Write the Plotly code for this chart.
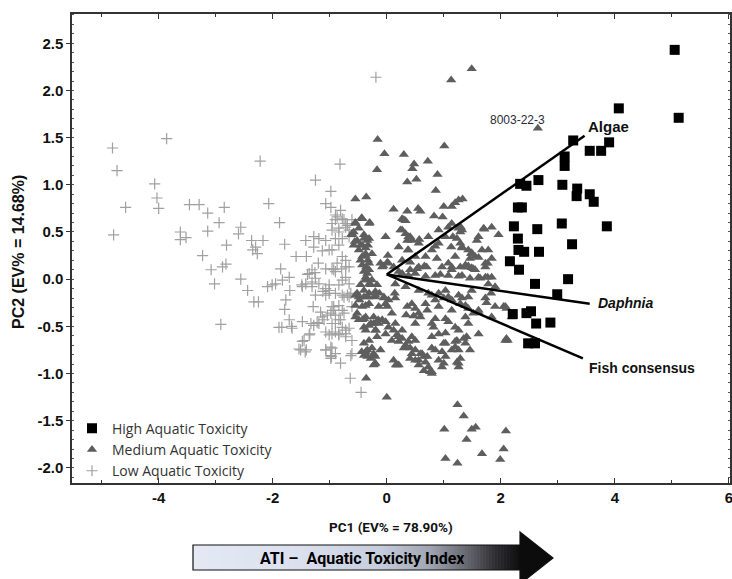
import plotly.graph_objects as go

# ---------------- data ----------------
high_x = [5.05, 5.12, 4.07, 3.27, 3.56, 3.76, 3.90, 3.12, 3.12, 2.34, 2.45, 2.66, 3.08, 3.34, 3.33, 3.56, 3.63,
          2.30, 2.37, 2.23, 2.64, 3.07, 3.86, 2.30, 3.25, 2.31, 2.41, 2.67, 2.16, 2.32, 2.60, 3.18, 2.99,
          2.21, 2.45, 2.53, 2.62, 2.87, 2.48, 2.60]
high_y = [2.43, 1.71, 1.81, 1.47, 1.36, 1.36, 1.45, 1.30, 1.20, 1.01, 0.99, 1.05, 1.00, 0.96, 0.88, 0.90, 0.82,
          0.76, 0.76, 0.56, 0.53, 0.59, 0.56, 0.43, 0.37, 0.31, 0.29, 0.29, 0.19, 0.10, -0.05, 0.00, -0.16,
          -0.37, -0.36, -0.34, -0.47, -0.46, -0.68, -0.68]

medium_pts = [
    (1.49, 2.23), (1.13, 2.11), (2.65, 1.60),
    (-0.16, 1.48), (-0.04, 1.33), (0.30, 1.32), (1.01, 1.41), (-0.17, 1.16), (0.48, 1.22), (0.45, 1.17),
    (0.72, 1.25), (0.89, 1.11), (0.36, 1.03), (0.52, 1.06), (0.86, 0.94),
    (-0.55, 0.85), (-0.36, 0.87), (0.12, 0.74), (0.36, 0.72), (0.55, 0.75), (0.59, 0.72), (1.00, 0.77),
    (1.20, 0.81), (1.26, 0.84), (1.33, 0.85), (1.14, 0.77), (0.83, 0.67), (0.98, 0.66), (0.30, 0.63),
    (0.27, 0.64), (0.33, 0.62),
    (-0.44, 0.65), (-0.30, 0.60), (-0.55, 0.60), (-0.49, 0.54), (-0.61, 0.47), (-0.52, 0.41), (-0.40, 0.47),
    (-0.34, 0.41), (-0.58, 0.36), (-0.46, 0.36), (-0.33, 0.36), (-0.31, 0.59), (-0.58, 0.50), (-0.40, 0.43),
    (-0.56, 0.40), (-0.37, 0.27), (-0.26, 0.27), (-0.43, 0.24),
    (-0.02, 0.45), (0.24, 0.52), (0.33, 0.48), (0.41, 0.45), (0.36, 0.41), (0.45, 0.41), (0.21, 0.34),
    (0.37, 0.31), (0.57, 0.42), (0.85, 0.35), (1.16, 0.45), (1.30, 0.55), (1.29, 0.50), (1.13, 0.34),
    (1.32, 0.34), (1.48, 0.27), (1.55, 0.24), (1.46, 0.22),
    (1.84, 0.55), (1.70, 0.54), (1.08, 0.55), (1.26, 0.54), (1.71, 0.53), (1.96, 0.47), (1.58, 0.41),
    (1.49, 0.28), (1.61, 0.23), (1.77, 0.17), (1.49, 0.12), (1.64, 0.01), (1.77, 0.02), (1.46, 0.01),
    (1.83, -0.15), (1.75, -0.25), (2.05, -0.29), (2.10, -0.31), (1.61, -0.58), (2.12, -0.65),
    (0.02, 0.25), (-0.37, 0.25), (-0.33, 0.20), (-0.36, 0.13), (-0.31, 0.10), (-0.11, 0.17), (0.03, 0.17),
    (0.12, 0.13), (0.27, 0.20), (0.41, 0.18), (0.56, 0.13), (0.70, 0.13), (0.88, 0.22), (0.97, 0.13),
    (1.14, 0.13), (1.29, 0.13), (1.38, 0.15),
    (0.27, 0.06), (0.38, 0.04), (0.50, 0.06), (0.68, 0.03), (0.85, 0.04), (1.08, 0.04), (1.32, 0.04),
    (-0.43, 0.15), (-0.34, 0.06), (-0.38, -0.01), (-0.31, -0.05), (-0.46, -0.06), (-0.06, 0.14), (0.01, 0.18),
    (0.21, 0.08), (0.41, 0.10), (0.53, 0.11), (0.66, 0.14), (0.94, 0.05), (1.14, 0.10), (1.43, 0.14),
    (1.52, 0.11), (1.26, 0.03),
    (-0.52, -0.15), (-0.48, -0.22), (-0.40, -0.19), (-0.31, -0.15), (-0.21, -0.19), (-0.13, -0.15),
    (-0.05, -0.20), (0.03, -0.22), (0.15, -0.20), (0.14, -0.15),
    (0.36, -0.29), (0.44, -0.26), (0.50, -0.31), (0.56, -0.36), (0.47, -0.39), (0.34, -0.38),
    (0.85, -0.22), (1.00, -0.20), (1.14, -0.22), (1.32, -0.20), (1.43, -0.19), (0.73, -0.15), (0.91, -0.15),
    (1.08, -0.19),
    (-0.55, -0.40), (-0.49, -0.43), (-0.40, -0.42), (-0.31, -0.49), (-0.37, -0.54), (-0.23, -0.47),
    (-0.15, -0.43), (-0.19, -0.54),
    (-0.02, -0.45), (0.03, -0.51), (0.12, -0.54), (0.18, -0.59), (0.09, -0.65), (0.21, -0.66), (0.27, -0.63),
    (0.33, -0.70), (0.38, -0.66), (0.30, -0.73), (0.41, -0.73), (0.50, -0.75), (0.59, -0.79), (0.65, -0.82),
    (0.71, -0.82), (0.56, -0.86), (0.68, -0.88),
    (0.79, -0.73), (0.97, -0.77), (1.00, -0.68), (1.20, -0.72), (1.23, -0.65), (1.35, -0.63), (1.46, -0.75),
    (1.26, -0.54), (1.08, -0.45), (1.03, -0.42), (0.85, -0.42), (0.82, -0.51), (0.79, -0.61), (1.03, -0.57),
    (1.20, -0.66), (1.29, -0.26), (1.43, -0.31), (1.52, -0.36),
    (-0.37, -0.77), (-0.26, -0.73), (-0.20, -0.82), (-0.34, -0.82), (-0.21, -0.90), (0.16, -0.91),
    (-0.36, -1.05), (0.00, -1.25),
    (0.79, -1.00), (0.97, -0.93), (1.26, -0.93), (1.29, -0.84),
    (1.24, -1.33), (1.35, -1.45), (1.01, -1.59), (1.49, -1.59), (1.56, -1.57), (1.40, -1.70), (2.09, -1.61),
    (2.05, -1.80), (1.67, -1.85), (1.03, -1.90), (1.24, -1.95), (1.99, -1.91),
    (1.23, 0.43), (1.32, 0.33), (1.78, 0.31), (1.84, 0.22), (1.73, 0.13), (1.43, 0.13), (1.61, 0.02),
    (1.84, 0.02), (1.78, -0.05), (1.90, -0.08), (2.08, -0.29), (1.61, -0.33), (1.43, -0.47), (1.20, -0.51),
    (1.40, -0.61), (2.08, -0.65), (1.26, -0.75), (1.03, -0.82), (0.91, -0.86), (0.73, -0.93), (0.76, -0.98),
    (1.23, -0.88), (0.62, -0.79), (0.41, -0.84), (0.50, -0.65), (0.21, -0.91), (0.12, -0.86),
    (-0.55, 0.59), (-0.43, 0.36), (-0.49, 0.31), (-0.46, 0.20), (-0.31, 0.17), (-0.40, 0.08), (-0.34, -0.01),
    (-0.28, -0.06), (-0.40, -0.12), (-0.49, -0.19), (-0.33, -0.19), (-0.20, -0.13), (-0.31, -0.26),
    (-0.43, -0.29), (-0.52, -0.36), (-0.37, -0.40), (-0.23, -0.40), (-0.40, -0.51), (-0.20, -0.54),
    (-0.31, -0.65), (-0.40, -0.68), (-0.44, -0.77), (-0.28, -0.84), (-0.20, -0.89),
    (-0.02, -0.26), (0.09, -0.36), (-0.08, -0.43), (0.15, -0.47), (0.27, -0.54), (0.21, -0.61), (0.44, -0.79),
    (0.50, -0.86), (0.56, -0.91), (0.18, -0.91), (0.65, -0.97), (0.44, -0.61), (0.50, -0.47), (0.59, -0.40),
    (0.71, -0.33), (0.79, -0.47), (0.91, -0.58), (1.03, -0.68), (0.85, -0.75), (1.14, -0.75), (1.26, -0.89),
    (1.00, -0.89), (0.79, -0.98),
    (0.27, 0.52), (0.38, 0.45), (0.38, 0.31), (0.50, 0.24), (0.68, 0.24), (0.79, 0.31), (0.91, 0.38),
    (1.03, 0.45), (0.56, 0.38), (0.73, 0.45), (0.91, 0.52), (1.14, 0.59), (1.32, 0.52), (1.29, 0.38),
    (1.43, 0.31), (1.61, 0.45), (1.67, 0.31), (1.73, 0.17), (1.20, 0.24), (1.08, 0.17), (1.38, 0.13),
    (1.55, 0.10), (1.73, 0.02),
    (0.15, -0.05), (0.33, -0.08), (0.56, -0.12), (0.79, -0.17), (1.03, -0.12), (1.26, -0.17), (1.49, -0.12),
    (1.73, -0.20), (1.38, -0.28), (1.61, -0.35), (1.90, -0.29), (2.19, -0.40), (1.84, -0.40), (1.38, -0.40),
    (1.14, -0.33), (0.91, -0.29), (0.68, -0.26), (2.10, -0.63), (1.38, -0.68),
    (-0.43, 0.64), (-0.61, 0.48), (-0.31, 0.43), (-0.37, 0.33), (-0.08, 0.13), (-0.37, 0.02), (-0.26, -0.01),
    (-0.17, -0.06), (-0.55, -0.17), (-0.20, -0.17), (-0.05, -0.19), (-0.55, -0.28), (-0.37, -0.28),
    (-0.14, -0.29), (0.01, -0.29), (-0.43, -0.43), (-0.28, -0.47), (-0.14, -0.47), (-0.02, -0.58),
    (-0.17, -0.61), (-0.34, -0.75), (-0.23, -0.79), (-0.40, -0.81), (-0.11, -0.75), (-0.23, -0.91),
]
medium_x = [p[0] for p in medium_pts]
medium_y = [p[1] for p in medium_pts]

low_pts = [
    (-4.81, 1.39), (-4.73, 1.15), (-4.58, 0.76), (-4.79, 0.47), (-3.86, 1.49), (-4.07, 1.01), (-4.03, 0.86),
    (-4.00, 0.75), (-3.46, 0.79), (-3.29, 0.79), (-3.14, 0.70), (-2.85, 0.76), (-2.94, 0.60), (-2.22, 1.25),
    (-2.07, 0.80), (-3.62, 0.50), (-3.52, 0.44), (-3.62, 0.42), (-3.14, 0.51), (-3.23, 0.25), (-2.81, 0.36),
    (-3.08, 0.10), (-3.02, -0.05), (-2.88, 0.13), (-2.82, 0.16), (-2.91, -0.48), (-2.56, 0.55), (-2.60, 0.48),
    (-2.56, 0.00), (-2.44, -0.12), (-2.37, 0.41), (-2.35, 0.31), (-2.27, 0.27), (-2.30, 0.34), (-2.17, 0.41),
    (-2.33, -0.24), (-2.25, -0.24), (-1.88, 0.60), (-1.79, 0.37), (-1.86, 0.11), (-2.09, -0.08), (-2.01, -0.06),
    (-1.95, -0.05), (-1.83, -0.01), (-1.71, 0.02), (-1.77, -0.22), (-1.79, -0.32), (-1.70, -0.12),
    (-1.84, -0.51), (-1.71, -0.43), (-1.67, -0.50), (-1.59, 0.24), (-1.41, 0.24), (-1.42, 0.41), (-1.28, 0.45),
    (-1.19, 0.43), (-1.07, 0.41), (-1.28, 0.34), (-1.13, 0.30), (-1.01, 0.31), (-1.20, 0.17), (-1.31, 0.10),
    (-1.39, 0.05), (-1.26, 0.07), (-1.42, -0.05), (-1.49, -0.06), (-1.31, -0.03), (-1.25, -0.17),
    (-1.12, -0.13), (-1.01, -0.15), (-1.07, -0.10), (-1.29, -0.29), (-1.19, -0.47), (-1.13, -0.40),
    (-0.98, -0.36), (-0.90, -0.47), (-0.81, -0.43), (-1.35, -0.58), (-1.45, -0.65), (-1.41, -0.75),
    (-1.54, -0.74), (-1.07, -0.75), (-0.97, -0.82), (-0.81, -0.89), (-0.98, -0.72), (-0.61, -0.79),
    (-0.64, -1.05), (-0.45, -1.20), (-1.25, 1.05), (-0.98, 0.93), (-1.07, 0.80), (-0.98, 0.76), (-0.81, 0.73),
    (-0.82, 1.22), (-0.19, 2.14),
    (-0.90, 0.63), (-0.84, 0.54), (-0.75, 0.63), (-0.72, 0.55), (-0.66, 0.45), (-0.78, 0.43), (-0.90, 0.43),
    (-0.96, 0.31), (-0.84, 0.36), (-0.78, 0.24), (-0.87, 0.17), (-0.72, 0.13), (-0.90, 0.08), (-0.72, 0.02),
    (-0.78, -0.01), (-0.66, -0.05), (-0.63, -0.15), (-0.75, -0.19), (-0.84, -0.28), (-0.93, -0.33),
    (-0.75, -0.36), (-0.78, -0.51), (-0.66, -0.52), (-0.84, -0.58), (-0.72, -0.61), (-0.61, -0.65),
    (-0.90, 0.68), (-0.96, 0.59), (-0.72, 0.59), (-0.61, 0.63), (-1.07, 0.11), (-0.93, 0.10), (-0.79, 0.11),
    (-0.72, 0.20), (-0.66, 0.13), (-1.25, 0.01), (-1.48, -0.08), (-1.31, -0.08), (-1.01, -0.12),
    (-0.90, -0.15), (-0.78, -0.17), (-0.66, -0.19), (-1.16, -0.35), (-1.04, -0.38), (-0.93, -0.29),
    (-0.90, -0.38), (-0.61, -0.29), (-1.89, -0.51), (-1.66, -0.52), (-1.48, -0.45), (-1.33, -0.47),
    (-1.22, -0.46), (-1.07, -0.56), (-0.96, -0.58), (-0.84, -0.59), (-0.72, -0.58), (-1.48, -0.66),
    (-1.51, -0.75), (-1.43, -0.77), (-0.98, -0.81), (-0.90, -0.79), (-0.63, -0.81),
    (-0.87, 0.66), (-0.78, 0.64), (-0.96, 0.52), (-0.84, 0.50), (-0.66, 0.52), (-0.69, 0.57),
    (-0.96, 0.11), (-1.36, 0.06), (-1.19, -0.05), (-1.01, -0.06), (-0.84, -0.06), (-0.69, -0.17),
    (-1.07, -0.17), (-0.96, -0.29), (-0.78, -0.33), (-1.28, -0.49), (-1.10, -0.43), (-0.96, -0.47),
    (-0.84, -0.43), (-0.72, -0.54), (-0.90, -0.56), (-1.01, -0.59), (-1.36, -0.59), (-1.07, -0.75),
    (-0.96, -0.73), (-0.98, -0.84),
]
low_x = [p[0] for p in low_pts]
low_y = [p[1] for p in low_pts]

# loading vectors
load_names = ["Algae", "Daphnia", "Fish consensus"]
load_origin = (0.0, 0.05)
load_x = [3.47, 3.56, 3.44]
load_y = [1.52, -0.26, -0.84]

x_ticks = [-4, -2, 0, 2, 4, 6]
y_ticks = [-2.0, -1.5, -1.0, -0.5, 0.0, 0.5, 1.0, 1.5, 2.0, 2.5]

# ---------------- figure ----------------
W, H = 732, 579
ML, MR, MT, MB = 72, 2, 14, 96
PW, PH = W - ML - MR, H - MT - MB

def px(xp):  # pixel x -> paper
    return (xp - ML) / PW

def py(yp):  # pixel y -> paper
    return (H - MB - yp) / PH

SANS = "Liberation Sans, Arial, sans-serif"
NARROW = "Roboto, Liberation Sans, sans-serif"

fig = go.Figure()

fig.add_trace(go.Scatter(
    x=low_x, y=low_y, mode="markers", name="Low Aquatic Toxicity",
    marker=dict(symbol="cross-thin-open", size=8, color="#a0a0a0",
                line=dict(width=1.2, color="#a0a0a0"))))
fig.add_trace(go.Scatter(
    x=medium_x, y=medium_y, mode="markers", name="Medium Aquatic Toxicity",
    marker=dict(symbol="triangle-up", size=9, color="#5e5e5e", line=dict(width=0))))
fig.add_trace(go.Scatter(
    x=high_x, y=high_y, mode="markers", name="High Aquatic Toxicity",
    marker=dict(symbol="square", size=10, color="#000000", line=dict(width=0))))

for i, nm in enumerate(load_names):
    fig.add_trace(go.Scatter(
        x=[load_origin[0], load_x[i]], y=[load_origin[1], load_y[i]], mode="lines",
        line=dict(color="black", width=2.5), showlegend=False, hoverinfo="skip"))

label_font = dict(family=SANS, size=14, color="#111", weight="bold")
annotations = [
    dict(x=load_x[0] + 0.03, y=load_y[0] + 0.10, text="Algae", xanchor="left", yanchor="middle",
         showarrow=False, font=dict(family=SANS, size=15, color="#111", weight="bold")),
    dict(x=load_x[1] + 0.11, y=load_y[1] + 0.01, text="<i>Daphnia</i>", xanchor="left", yanchor="middle",
         showarrow=False, font=label_font),
    dict(x=load_x[2] + 0.07, y=load_y[2] - 0.10, text="Fish consensus", xanchor="left", yanchor="middle",
         showarrow=False, font=label_font),
    dict(x=2.29, y=1.69, text="8003-22-3", xanchor="center", yanchor="middle", showarrow=False,
         font=dict(family=SANS, size=12, color="#2a2a3a")),
    # axis titles
    dict(xref="paper", yref="paper", x=px(391), y=py(527), text="PC1 (EV% = 78.90%)", showarrow=False,
         xanchor="center", yanchor="middle",
         font=dict(family=NARROW, size=13.5, color="#111", weight="bold")),
    dict(xref="paper", yref="paper", x=px(18), y=py(252), text="PC2 (EV% = 14.68%)", showarrow=False,
         textangle=-90, xanchor="center", yanchor="middle",
         font=dict(family=SANS, size=16, color="#111", weight="bold")),
    # arrow text
    dict(xref="paper", yref="paper", x=px(362), y=py(558), text="ATI \u2013  Aquatic Toxicity Index",
         showarrow=False, xanchor="center", yanchor="middle",
         font=dict(family=NARROW, size=16, color="#000", weight="bold")),
]

# gradient arrow built from thin strips
stops = [(193, (228, 233, 244)), (300, (218, 224, 238)), (380, (198, 205, 220)), (430, (160, 165, 178)),
         (465, (105, 107, 115)), (495, (45, 45, 50)), (521, (12, 12, 12))]

def col_at(x):
    for (x0, c0), (x1, c1) in zip(stops[:-1], stops[1:]):
        if x0 <= x <= x1:
            t = (x - x0) / (x1 - x0)
            return "rgb(%d,%d,%d)" % tuple(round(a + (b - a) * t) for a, b in zip(c0, c1))
    return "rgb(12,12,12)"

shapes = []
bx0, bx1, by0, by1 = 193, 521, 545, 570
N = 110
step = (bx1 - bx0) / N
for i in range(N):
    a = bx0 + i * step
    b = a + step + 0.6
    shapes.append(dict(type="rect", xref="paper", yref="paper", x0=px(a), x1=px(min(b, bx1)),
                       y0=py(by1), y1=py(by0), fillcolor=col_at(a + step / 2), line=dict(width=0),
                       layer="above"))
hx0, htip, hy0, hy1 = 520, 553, 532, 584
head = "M %f %f L %f %f L %f %f Z" % (px(hx0), py(hy0), px(htip), py((hy0 + hy1) / 2), px(hx0), py(hy1))
shapes.append(dict(type="path", xref="paper", yref="paper", path=head, fillcolor="#0c0c0c",
                   line=dict(width=0), layer="above"))
outline = ("M %f %f L %f %f L %f %f L %f %f L %f %f L %f %f L %f %f Z" % (
    px(bx0), py(by0), px(hx0), py(by0), px(hx0), py(hy0), px(htip), py((hy0 + hy1) / 2),
    px(hx0), py(hy1), px(hx0), py(by1), px(bx0), py(by1)))
shapes.append(dict(type="path", xref="paper", yref="paper", path=outline,
                   line=dict(width=1.2, color="#111"), layer="above"))

tickfont = dict(family=SANS, size=15, color="#111", weight="bold")

fig.update_layout(
    template="none",
    width=W, height=H,
    margin=dict(l=ML, r=MR, t=MT, b=MB, autoexpand=False),
    paper_bgcolor="white", plot_bgcolor="white",
    showlegend=True,
    legend=dict(x=0.0, y=-0.008, xanchor="left", yanchor="bottom", traceorder="reversed",
                bgcolor="rgba(0,0,0,0)", borderwidth=0, tracegroupgap=0, itemwidth=30,
                font=dict(family="Open Sans, sans-serif", size=14, color="#333")),
    xaxis=dict(range=[-5.52, 6.02], tickvals=x_ticks, ticktext=[str(v) for v in x_ticks],
               ticks="inside", ticklen=5, tickwidth=1.2, tickcolor="#333",
               minor=dict(dtick=1, ticks="inside", ticklen=3, tickcolor="#333"),
               showline=True, linecolor="#333", linewidth=1.5, mirror="ticks",
               showgrid=False, zeroline=False, automargin=False, tickfont=tickfont,
               ticklabeloverflow="allow"),
    yaxis=dict(range=[-2.16, 2.81], tickvals=y_ticks, ticktext=["%.1f" % v for v in y_ticks],
               ticks="outside", ticklen=4, tickwidth=1.2, tickcolor="#333",
               minor=dict(dtick=0.1, ticks="inside", ticklen=2, tickcolor="#555"),
               showline=True, linecolor="#333", linewidth=1.5, mirror="ticks",
               showgrid=False, zeroline=False, automargin=False, tickfont=tickfont),
    annotations=annotations,
    shapes=shapes,
)

fig.write_html("out.html")
